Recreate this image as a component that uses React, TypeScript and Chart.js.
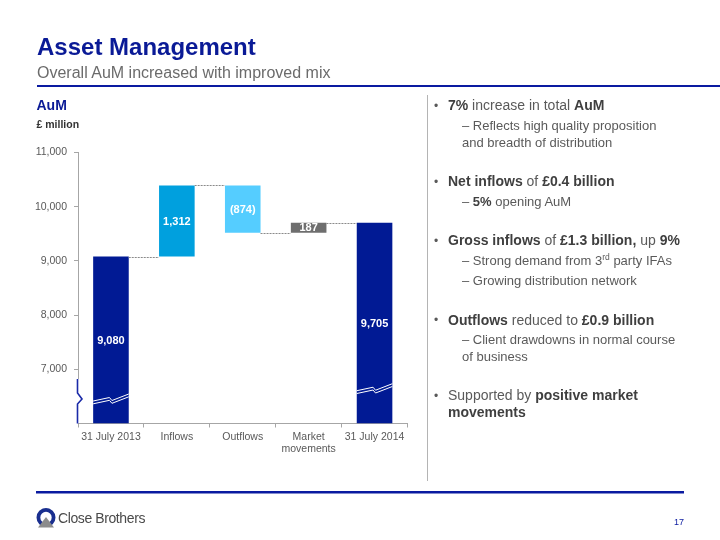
import React, { useEffect, useRef } from 'react';
import { Chart, registerables } from 'chart.js';

Chart.register(...registerables);

// ---- data ----
const categories: (string | string[])[] = ['31 July 2013', 'Inflows', 'Outflows', ['Market', 'movements'], '31 July 2014'];
const stepValues = [9080, 1312, -874, 187, 9705];
const stepKinds = ['total', 'delta', 'delta', 'delta', 'total'];
const stepLabels = ['9,080', '1,312', '(874)', '187', '9,705'];
const barColors = ['#011A94', '#00A0DE', '#55CDFF', '#6E6E6E', '#011A94'];
const yTicks = [6000, 7000, 8000, 9000, 10000, 11000];
const breakValues = [6470, 6660];

const FONT = "'Liberation Sans', Arial, sans-serif";
const NAVY = '#0A1A96';

const axisMin = yTicks[0];
const axisMax = yTicks[yTicks.length - 1];
const ranges: number[][] = [];
const ends: number[] = [];
{
  let running = 0;
  stepValues.forEach((v, i) => {
    if (stepKinds[i] === 'total') {
      running = v;
      ranges.push([axisMin, v]);
    } else {
      const start = running;
      running += v;
      ranges.push([Math.min(start, running), Math.max(start, running)]);
    }
    ends.push(running);
  });
}

const extrasPlugin = {
  id: 'waterfallExtras',
  afterDraw(chart: any) {
    const ctx = chart.ctx;
    const y = chart.scales.y;
    const area = chart.chartArea;
    const meta = chart.getDatasetMeta(0);
    const els = meta.data;
    ctx.save();
    // connectors
    ctx.strokeStyle = '#8A8A8A';
    ctx.lineWidth = 1;
    ctx.setLineDash([2, 1]);
    for (let i = 0; i < els.length - 1; i++) {
      const a = els[i];
      const b = els[i + 1];
      const py = Math.round(y.getPixelForValue(ends[i])) + 0.5;
      ctx.beginPath();
      ctx.moveTo(a.x + a.width / 2, py);
      ctx.lineTo(b.x - b.width / 2, py);
      ctx.stroke();
    }
    ctx.setLineDash([]);
    // zigzag breaks on total bars
    let k = 0;
    els.forEach((el: any, i: number) => {
      if (stepKinds[i] !== 'total') return;
      const yc = y.getPixelForValue(breakValues[k++]);
      const L = el.x - el.width / 2;
      const R = el.x + el.width / 2;
      const m = el.x;
      ctx.strokeStyle = '#FFFFFF';
      ctx.lineWidth = 1;
      [0, 2.8].forEach((off) => {
        ctx.beginPath();
        ctx.moveTo(L, yc + 3 + off);
        ctx.lineTo(m - 1.5, yc - 0.5 + off);
        ctx.lineTo(m + 1, yc + 2.5 + off);
        ctx.lineTo(R, yc - 4 + off);
        ctx.stroke();
      });
    });
    // value labels
    ctx.fillStyle = '#FFFFFF';
    ctx.font = `bold 11px ${FONT}`;
    ctx.textAlign = 'center';
    ctx.textBaseline = 'middle';
    els.forEach((el: any, i: number) => {
      const top = Math.min(el.y, el.base);
      const bot = Math.min(Math.max(el.y, el.base), area.bottom);
      ctx.fillText(stepLabels[i], el.x, (top + bot) / 2 + 0.5);
    });
    // axis break symbol
    const ax = Math.round(area.left) - 0.5;
    const yb0 = area.bottom - 44.5;
    const yn = area.bottom - 24.5;
    ctx.fillStyle = '#FFFFFF';
    ctx.fillRect(ax - 2, yb0, 4, area.bottom - yb0 - 0.5);
    ctx.strokeStyle = '#1A2AA8';
    ctx.lineWidth = 1.6;
    ctx.beginPath();
    ctx.moveTo(ax, yb0);
    ctx.lineTo(ax, yn - 6);
    ctx.lineTo(ax + 4.5, yn);
    ctx.lineTo(ax, yn + 5);
    ctx.lineTo(ax, area.bottom);
    ctx.stroke();
    ctx.restore();
  },
};

function ChartBox() {
  const ref = useRef<HTMLCanvasElement | null>(null);
  useEffect(() => {
    if (!ref.current) return;
    const chart = new Chart(ref.current, {
      type: 'bar',
      data: {
        labels: categories as any,
        datasets: [
          {
            data: ranges as any,
            backgroundColor: barColors,
            borderWidth: 0,
            barPercentage: 0.54,
            categoryPercentage: 1,
          },
        ],
      },
      options: {
        animation: false,
        responsive: false,
        devicePixelRatio: 1,
        layout: { padding: { left: 0, right: 22.5, top: 22.5, bottom: 0 } },
        plugins: { legend: { display: false }, tooltip: { enabled: false }, title: { display: false } },
        scales: {
          x: {
            grid: {
              offset: true,
              drawOnChartArea: false,
              drawTicks: true,
              tickLength: 4,
              color: '#A6A6A6',
            },
            border: { color: '#A6A6A6', width: 1 },
            ticks: {
              color: '#595959',
              font: { family: FONT, size: 10.5 },
              padding: 3,
              maxRotation: 0,
              autoSkip: false,
            },
            afterFit(scale: any) {
              scale.height = 46.5;
            },
          } as any,
          y: {
            min: axisMin,
            max: axisMax,
            afterBuildTicks(scale: any) {
              scale.ticks = yTicks.map((v) => ({ value: v }));
            },
            grid: {
              drawOnChartArea: false,
              drawTicks: true,
              tickLength: 4,
              color: (c: any) => (c.tick && c.tick.value === axisMin ? 'rgba(0,0,0,0)' : '#A6A6A6'),
            },
            border: { color: '#A6A6A6', width: 1 },
            ticks: {
              color: '#595959',
              font: { family: FONT, size: 10.5 },
              padding: 7,
              callback: (v: any) => (Number(v) === axisMin ? '' : Number(v).toLocaleString('en-GB')),
            },
            afterFit(scale: any) {
              scale.width = 78;
            },
          } as any,
        },
      },
      plugins: [extrasPlugin],
    });
    return () => chart.destroy();
  }, []);
  return (
    <canvas
      ref={ref}
      width={430}
      height={340}
      style={{ position: 'absolute', left: 0, top: 130, width: 430, height: 340 }}
    />
  );
}

type Part = [string, boolean?, boolean?];
type Line = { x: number; y: number; size: number; bullet?: boolean; parts: Part[] };

const textLines: Line[] = [
  { x: 448, y: 110, size: 14, bullet: true, parts: [['7%', true], [' increase in total '], ['AuM', true]] },
  { x: 462, y: 129.5, size: 13, parts: [['– Reflects high quality proposition']] },
  { x: 462, y: 146.5, size: 13, parts: [['and breadth of distribution']] },
  { x: 448, y: 186, size: 14, bullet: true, parts: [['Net inflows', true], [' of '], ['£0.4 billion', true]] },
  { x: 462, y: 205.5, size: 13, parts: [['– '], ['5%', true], [' opening AuM']] },
  { x: 448, y: 245, size: 14, bullet: true, parts: [['Gross inflows', true], [' of '], ['£1.3 billion,', true], [' up '], ['9%', true]] },
  { x: 462, y: 264.5, size: 13, parts: [['– Strong demand from 3'], ['rd', false, true], [' party IFAs']] },
  { x: 462, y: 284.5, size: 13, parts: [['– Growing distribution network']] },
  { x: 448, y: 324.5, size: 14, bullet: true, parts: [['Outflows', true], [' reduced to '], ['£0.9 billion', true]] },
  { x: 462, y: 344, size: 13, parts: [['– Client drawdowns in normal course']] },
  { x: 462, y: 361, size: 13, parts: [['of business']] },
  { x: 448, y: 400, size: 14, bullet: true, parts: [['Supported by '], ['positive market', true]] },
  { x: 448, y: 417, size: 14, parts: [['movements', true]] },
];

function Slide() {
  return (
    <svg
      width={720}
      height={540}
      style={{ position: 'absolute', left: 0, top: 0, pointerEvents: 'none' }}
      fontFamily={FONT}
    >
      <text x={37} y={55} fontSize={24} fontWeight="bold" fill={NAVY}>
        Asset Management
      </text>
      <text x={37} y={78} fontSize={16} fill="#6B6B6B">
        Overall AuM increased with improved mix
      </text>
      <rect x={37} y={85} width={683} height={2} fill="#0A1AA0" />
      <text x={36.5} y={109.5} fontSize={14} fontWeight="bold" fill={NAVY}>
        AuM
      </text>
      <text x={36.5} y={128} fontSize={10.5} fontWeight="bold" fill="#333333">
        £ million
      </text>
      <line x1={427.5} y1={95} x2={427.5} y2={481} stroke="#B4B4B4" strokeWidth={1} />
      {textLines.map((ln, i) => (
        <g key={i}>
          {ln.bullet && (
            <text x={434} y={ln.y - 0.5} fontSize={12} fill="#595959">
              •
            </text>
          )}
          <text x={ln.x} y={ln.y} fontSize={ln.size} fill="#5A5A5A">
            {ln.parts.map((p, j) =>
              p[2] ? (
                <tspan key={j} fontSize={8.5} dy={-5}>
                  {p[0]}
                </tspan>
              ) : (
                <tspan
                  key={j}
                  fontWeight={p[1] ? 'bold' : 'normal'}
                  fill={p[1] ? '#3F3F3F' : '#5A5A5A'}
                  dy={j > 0 && ln.parts[j - 1][2] ? 5 : 0}
                >
                  {p[0]}
                </tspan>
              )
            )}
          </text>
        </g>
      ))}
      <rect x={36} y={491} width={648} height={2.5} fill="#0A1AA0" />
      {/* logo */}
      <circle cx={46} cy={517.5} r={7.6} fill="none" stroke="#1A2F8F" strokeWidth={3.8} />
      <path d="M38 527.5 L46 517 L54 527.5 Z" fill="#8C8C8C" />
      <text x={58} y={523} fontSize={14} fill="#4A4A4A" letterSpacing={-0.4}>
        Close Brothers
      </text>
      <text x={684} y={524.5} fontSize={9} textAnchor="end" fill="#0A1AA0">
        17
      </text>
    </svg>
  );
}

export default function App() {
  return (
    <div style={{ position: 'absolute', left: 0, top: 0, width: 720, height: 540, background: '#FFFFFF', overflow: 'hidden' }}>
      <ChartBox />
      <Slide />
    </div>
  );
}
